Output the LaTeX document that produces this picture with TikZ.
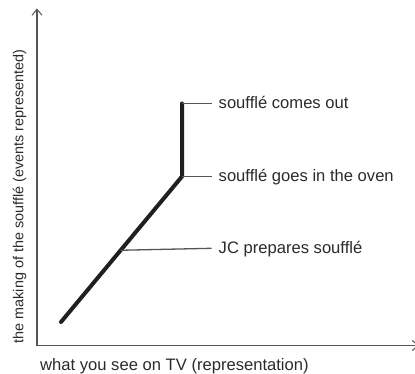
\documentclass[tikz,border=0pt]{standalone}
\usepackage{fontspec}
\setmainfont{Liberation Sans}
\usetikzlibrary{arrows.meta,calc}
\definecolor{axisgray}{HTML}{555555}
\definecolor{inkdark}{HTML}{231F20}
\definecolor{textdark}{HTML}{2B2B2B}
\begin{document}
\begin{tikzpicture}[x=1pt,y=-1pt,
  axis/.style={draw=axisgray,line width=1.1pt,-{Straight Barb[length=6pt,width=10pt,line width=1pt]}},
  curve/.style={draw=inkdark,line width=4pt,line cap=round,line join=round},
  leader/.style={draw=axisgray,line width=1.3pt},
  lbl/.style={text=textdark,font=\fontsize{16.6}{19}\selectfont,anchor=base west,inner sep=0pt},
  axlbl/.style={text=textdark,font=\fontsize{14.4}{16}\selectfont,inner sep=0pt,anchor=base}]
\useasboundingbox (0,0) rectangle (415,374);
\coordinate (O) at (37,345.5);
\coordinate (ytop) at (37,8.5);
\coordinate (xend) at (419,345.5);
\draw[axis] (O) -- (ytop);
\draw[axis] (O) -- (xend);
\coordinate (p0) at (61,322);
\coordinate (p1) at (182,176.5);
\coordinate (p2) at (182,103.5);
\coordinate (pm) at ($(p0)!0.493!(p1)$);
\draw[curve] (p0) -- (p1) -- (p2);
\node[lbl] (l1) at (218.5,109) {soufflé comes out};
\node[lbl] (l2) at (218.5,182) {soufflé goes in the oven};
\node[lbl] (l3) at (218.5,254) {JC prepares soufflé};
\coordinate (e1) at (211.5,103.5);
\coordinate (e2) at (211.5,176.5);
\coordinate (e3) at (211.5,248.3);
\draw[leader] (p2) -- (e1);
\draw[leader] (p1) -- (e2);
\draw[leader] (pm) -- (e3);
\node[axlbl,rotate=90] (ya) at (23.3,196.5) {the making of the soufflé (events represented)};
\node[lbl] (xa) at (40,370.5) {what you see on TV (representation)};
\end{tikzpicture}
\end{document}
